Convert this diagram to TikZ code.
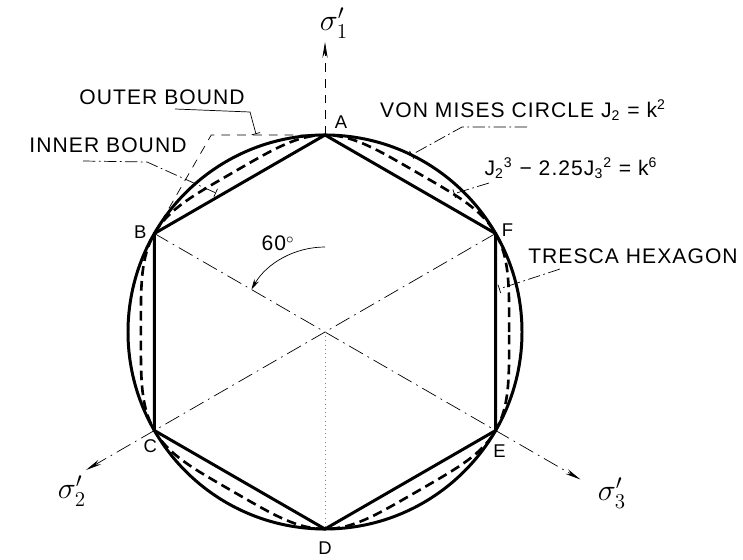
\documentclass[tikz,border=0pt]{standalone}
\usepackage{fontspec}
\setmainfont{Liberation Sans}
\usetikzlibrary{positioning, arrows.meta, calc}

\begin{document}
\begin{tikzpicture}[
    x=0.02cm, y=0.02cm,
    font=\fontsize{12}{14}\selectfont\addfontfeature{LetterSpace=5},
    bound/.style={line width=1.7pt},
    curvedash/.style={line width=1.5pt, dash pattern=on 5.5pt off 3pt},
    axisline/.style={thin, dash pattern=on 9pt off 3pt on 1pt off 3pt},
    outerline/.style={thin, dash pattern=on 5pt off 4pt},
    leader/.style={thin, dash pattern=on 7pt off 2pt on 1pt off 2pt, -{Bar[width=5pt]}},
    axarr/.style={-{Stealth[length=9pt, width=3pt]}},
    vlabel/.style={font=\fontsize{10.5}{12}\selectfont},
    sig/.style={font=\fontsize{17}{19}\selectfont}
]
\useasboundingbox (0,0) rectangle (743,559);
\def\R{197}
\coordinate (O) at (325,227);
\foreach \n/\a in {A/90, B/150, C/210, D/270, E/330, F/30}
    \coordinate (\n) at ($(O)+(\a:\R)$);
\coordinate (K) at ($(O)+(120:227.5)$);

% von Mises circle, Tresca hexagon and the J2-J3 curve
\draw[bound] (O) circle (\R);
\draw[bound] (A) -- (B) -- (C) -- (D) -- (E) -- (F) -- cycle;
\draw[curvedash, shift={(O)}] plot[domain=0:360, samples=241]
    (\x:{\R*0.93473*exp(-ln(1-cos(3*\x-270)^2/3)/6)});
\draw[outerline] (A) -- (K) -- (B);

% principal stress axes
\coordinate (T1) at ($(O)+(90:290)$);
\coordinate (T2) at ($(O)+(210:276)$);
\coordinate (T3) at ($(O)+(330:295)$);
\draw[outerline, axarr] (A) -- (T1);
\draw[axisline, axarr] (F) -- (T2);
\draw[axisline, axarr] (B) -- (T3);
\draw[thin, dotted, gray] (O) -- (D);
\node[sig] (s1) at (334,536) {$\sigma_1'$};
\node[sig] (s2) at (72,68) {$\sigma_2'$};
\node[sig] (s3) at (612,66) {$\sigma_3'$};

% angle
\coordinate (arcs) at ($(O)+(90:85)$);
\draw[thin, -{Stealth[length=6pt, width=3pt]}] (arcs) arc[start angle=90, end angle=150, radius=85];
\node (ang) at ($(O)+(118:100)$) {60$^{\circ}$};

% vertex letters
\node[vlabel] (lA) at ($(A)+(16,13)$) {A};
\node[vlabel] (lB) at ($(B)+(-14,1)$) {B};
\node[vlabel] (lC) at ($(C)+(-4,-16)$) {C};
\node[vlabel] (lD) at ($(D)+(0,-19)$) {D};
\node[vlabel] (lE) at ($(E)+(4,-21)$) {E};
\node[vlabel] (lF) at ($(F)+(12,3)$) {F};

% labels and leaders
\node (outer) at (162,462) {OUTER BOUND};
\node (inner) at (108,414) {INNER BOUND};
\node (mises) at (523,449) {VON MISES CIRCLE J\textsubscript{2} = k\textsuperscript{2}};
\node (jcurve) at (571,391) {J\textsubscript{2}\textsuperscript{3} − 2.25J\textsubscript{3}\textsuperscript{2} = k\textsuperscript{6}};
\node (tresca) at (633,303) {TRESCA HEXAGON};

\coordinate (ob1) at (175,450);
\coordinate (ob2) at (250,447);
\coordinate (ob3) at (256,425);
\draw[thin, -{Bar[width=5pt]}] (ob1) -- (ob2) -- (ob3);
\coordinate (ib1) at (83,398);
\coordinate (ib2) at (147,397);
\coordinate (ib3) at (216,366);
\draw[leader] (ib1) -- (ib2) -- (ib3);
\coordinate (vm1) at (527,432);
\coordinate (vm2) at (462,432);
\coordinate (vm3) at ($(O)+(64:\R)$);
\draw[leader] (vm1) -- (vm2) -- (vm3);
\coordinate (jc1) at (489,376);
\coordinate (jc2) at ($(O)+(47:189)$);
\draw[leader] (jc1) -- (jc2);
\coordinate (tr1) at (560,290);
\coordinate (tr2) at (499,270);
\draw[leader] (tr1) -- (tr2);
\end{tikzpicture}
\end{document}
